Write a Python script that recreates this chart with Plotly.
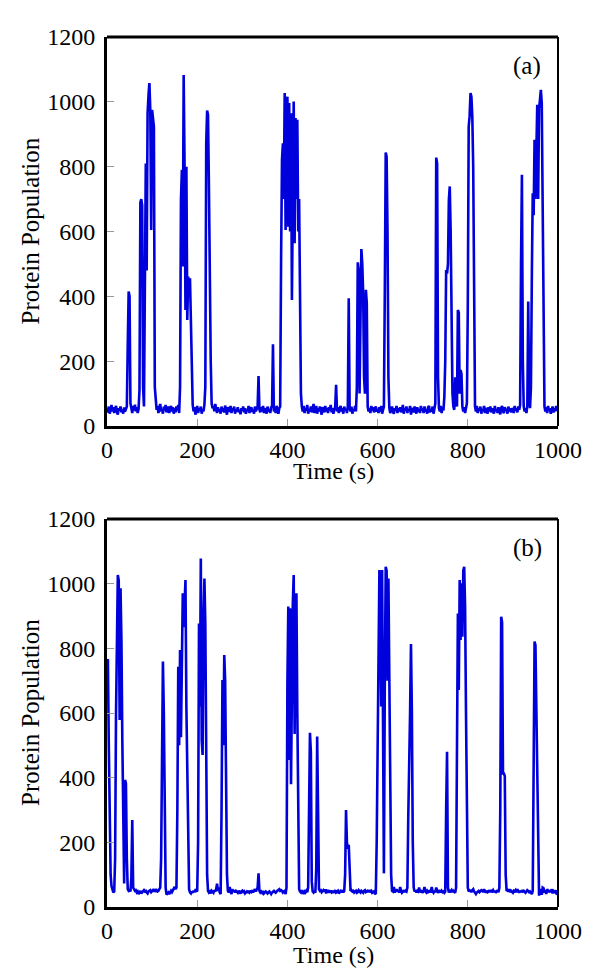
import plotly.graph_objects as go

# Sampling interval of both simulated traces (seconds)
DT = 2
# Panel (a): protein population every 2 s from t = 0 to 1000 s (25 samples = 50 s per row)
POP_A = [
    55, 42, 60, 38, 52, 65, 45, 58, 40, 50, 62, 44, 35, 55, 48, 60, 42, 50, 38, 57, 45, 52, 60, 250, 415,
    400, 70, 55, 40, 62, 48, 66, 45, 58, 40, 52, 110, 690, 700, 680, 120, 60, 520, 810, 480, 965, 1020, 1058, 975, 605,
    975, 934, 924, 120, 60, 50, 62, 40, 55, 68, 45, 52, 38, 60, 48, 65, 42, 55, 60, 40, 50, 62, 45, 58, 38,
    55, 42, 60, 48, 65, 40, 120, 698, 790, 492, 1083, 800, 358, 800, 327, 461, 420, 456, 307, 100, 65, 45, 58, 35, 50,
    62, 40, 55, 48, 60, 38, 52, 45, 66, 121, 872, 973, 960, 739, 420, 200, 70, 55, 62, 45, 68, 50, 40, 58, 45,
    52, 38, 60, 45, 55, 42, 63, 48, 35, 58, 50, 44, 62, 40, 55, 47, 60, 38, 52, 45, 58, 42, 50, 36, 55,
    48, 60, 42, 55, 38, 50, 45, 62, 40, 52, 58, 44, 50, 38, 60, 45, 55, 60, 154, 50, 42, 58, 45, 62, 40,
    55, 48, 38, 60, 45, 52, 40, 58, 60, 252, 45, 55, 40, 62, 48, 38, 55, 60, 512, 821, 872, 700, 1027, 605, 1000,
    1016, 615, 996, 600, 965, 389, 800, 1001, 564, 950, 700, 945, 600, 700, 400, 100, 60, 45, 62, 40, 55, 48, 65, 38, 52,
    45, 60, 42, 55, 68, 40, 50, 62, 38, 55, 45, 60, 48, 35, 58, 50, 42, 62, 45, 55, 40, 58, 48, 65, 42,
    55, 38, 50, 60, 127, 45, 58, 40, 52, 62, 45, 55, 38, 60, 48, 52, 40, 62, 394, 55, 45, 60, 38, 52, 45,
    62, 45, 120, 505, 480, 100, 300, 546, 500, 410, 150, 100, 420, 380, 60, 45, 55, 40, 62, 48, 58, 42, 55, 60, 45,
    52, 40, 58, 45, 62, 38, 55, 60, 420, 844, 831, 600, 150, 55, 40, 52, 60, 45, 38, 55, 48, 62, 40, 55, 45,
    58, 42, 50, 65, 38, 55, 48, 60, 40, 52, 45, 62, 35, 55, 50, 42, 60, 48, 38, 58, 45, 52, 40, 62, 48,
    55, 40, 60, 45, 52, 38, 58, 62, 42, 50, 45, 60, 38, 55, 70, 828, 810, 150, 55, 45, 62, 40, 58, 48, 90,
    200, 481, 470, 500, 698, 739, 600, 300, 100, 60, 50, 150, 100, 60, 358, 350, 100, 173, 160, 60, 45, 58, 40, 55, 70,
    368, 924, 955, 1027, 1016, 955, 800, 500, 60, 45, 62, 40, 55, 48, 60, 38, 52, 45, 62, 40, 55, 50, 38, 58, 45,
    60, 42, 55, 48, 38, 62, 45, 52, 40, 58, 50, 36, 55, 62, 45, 40, 58, 48, 52, 38, 60, 45, 55, 42, 50,
    55, 40, 62, 48, 55, 42, 60, 50, 65, 500, 775, 200, 60, 45, 55, 40, 62, 384, 100, 55, 120, 461, 718, 650, 883,
    700, 850, 991, 700, 980, 1006, 1037, 996, 700, 400, 60, 45, 58, 40, 62, 48, 55, 38, 52, 60, 42, 55, 45, 62, 48,
    55,
]

# Panel (b): protein population every 2 s from t = 0 to 1000 s (25 samples = 50 s per row)
POP_B = [
    760, 766, 500, 250, 100, 65, 55, 45, 48, 150, 600, 867, 1027, 1010, 578, 986, 826, 516, 300, 73, 393, 382, 150, 55, 50,
    52, 48, 90, 269, 60, 55, 50, 52, 45, 48, 40, 44, 50, 42, 46, 50, 52, 48, 50, 45, 42, 48, 50, 52, 46,
    50, 52, 48, 55, 50, 52, 48, 50, 55, 60, 150, 500, 759, 600, 200, 60, 38, 42, 45, 40, 48, 50, 46, 52, 60,
    62, 55, 60, 300, 743, 500, 795, 525, 826, 970, 865, 980, 1011, 620, 410, 150, 55, 45, 42, 48, 44, 50, 46, 52, 50,
    48, 200, 877, 620, 1078, 515, 470, 900, 1016, 877, 310, 100, 50, 45, 48, 42, 50, 46, 44, 52, 48, 55, 72, 50, 60,
    45, 40, 300, 702, 500, 779, 700, 400, 100, 50, 45, 62, 48, 40, 55, 48, 52, 45, 50, 48, 44, 50, 46, 42, 48,
    50, 44, 48, 42, 46, 48, 44, 50, 45, 48, 46, 52, 45, 50, 55, 48, 52, 60, 104, 50, 45, 48, 44, 50, 42,
    44, 48, 46, 42, 45, 48, 44, 40, 45, 48, 50, 46, 44, 48, 50, 52, 55, 50, 52, 50, 45, 48, 50, 40, 60,
    692, 929, 455, 924, 380, 774, 939, 1027, 535, 929, 970, 600, 150, 55, 48, 45, 52, 42, 40, 48, 45, 50, 46, 60, 300,
    539, 480, 80, 48, 45, 50, 44, 120, 527, 300, 55, 50, 52, 46, 50, 52, 48, 55, 42, 50, 48, 52, 44, 50, 46,
    50, 44, 48, 52, 45, 48, 50, 42, 46, 50, 48, 52, 45, 50, 100, 300, 200, 180, 192, 80, 50, 52, 48, 50, 45,
    48, 50, 44, 46, 52, 48, 45, 50, 48, 44, 50, 52, 46, 48, 50, 46, 52, 48, 50, 44, 46, 48, 42, 40, 200,
    516, 918, 1042, 900, 620, 1042, 413, 104, 700, 1052, 1040, 700, 1016, 700, 341, 100, 50, 48, 62, 45, 50, 55, 48, 52, 45,
    62, 50, 44, 48, 52, 46, 50, 48, 60, 279, 400, 600, 813, 600, 200, 60, 48, 52, 45, 50, 48, 60, 46, 50, 48,
    44, 50, 62, 48, 45, 50, 46, 48, 52, 45, 62, 48, 44, 50, 46, 60, 50, 44, 48, 52, 45, 50, 46, 48, 44,
    48, 300, 480, 60, 45, 50, 48, 52, 46, 50, 48, 44, 60, 620, 908, 671, 1011, 826, 1001, 836, 1040, 1052, 929, 600, 300,
    60, 48, 52, 50, 46, 52, 55, 48, 44, 40, 45, 48, 50, 46, 48, 52, 50, 46, 55, 48, 44, 50, 46, 48, 52,
    46, 50, 48, 52, 46, 50, 44, 48, 52, 46, 60, 300, 898, 880, 413, 413, 405, 100, 50, 52, 48, 55, 46, 50, 48,
    44, 50, 48, 52, 46, 55, 48, 44, 50, 46, 52, 48, 50, 46, 44, 48, 52, 50, 46, 48, 44, 40, 50, 400, 821,
    810, 599, 300, 80, 35, 55, 48, 38, 60, 58, 45, 52, 40, 55, 50, 48, 52, 46, 55, 42, 50, 48, 45, 52, 38,
    45,
]

TIME = [i * DT for i in range(len(POP_A))]
TICKS_X = [0, 200, 400, 600, 800, 1000]
TICKS_Y = [0, 200, 400, 600, 800, 1000, 1200]
PANEL_LABELS = ["(a)", "(b)"]
X_TITLE = "Time (s)"
Y_TITLE = "Protein Population"

FONT = "Liberation Serif"
BLUE = "#0000dc"

# The page body adds an 8 px offset; the figure is laid out to compensate.
OFF = 8
W, H = 600, 975
L, R = 107 - OFF, W - (558 - OFF)
T, B = 37 - OFF, H - (907 - OFF)
PH = H - T - B
PW = W - L - R


def py(y_screen):
    """screen y (px) -> paper fraction"""
    return ((H - B) - (y_screen - OFF)) / PH


fig = go.Figure()
fig.add_trace(go.Scatter(x=TIME, y=POP_A, mode="lines", line=dict(color=BLUE, width=2.6),
                         xaxis="x", yaxis="y", showlegend=False))
fig.add_trace(go.Scatter(x=TIME[:len(POP_B)], y=POP_B, mode="lines", line=dict(color=BLUE, width=2.6),
                         xaxis="x2", yaxis="y2", showlegend=False))

ax_common = dict(
    showgrid=False, zeroline=False, showline=True, linecolor="black", linewidth=3,
    ticks="inside", ticklen=7, tickwidth=1, tickcolor="#999999",
    tickfont=dict(family=FONT, size=24, color="black"),
)
top_a = 1.0
bot_a = py(426)
top_b = py(519)

fig.update_layout(
    width=W, height=H,
    margin=dict(l=L, r=R, t=T, b=B),
    paper_bgcolor="white", plot_bgcolor="white",
    xaxis=dict(domain=[0, 1], anchor="y", range=[0, 1000], tickvals=TICKS_X, ticklabelstandoff=0, **ax_common),
    yaxis=dict(domain=[bot_a, top_a], anchor="x", range=[0, 1200], tickvals=TICKS_Y, ticklabelstandoff=4, **ax_common),
    xaxis2=dict(domain=[0, 1], anchor="y2", range=[0, 1000], tickvals=TICKS_X, ticklabelstandoff=0, **ax_common),
    yaxis2=dict(domain=[0, top_b], anchor="x2", range=[0, 1200], tickvals=TICKS_Y, ticklabelstandoff=4, **ax_common),
)

shapes = []
for xr, yr in (("x domain", "y domain"), ("x2 domain", "y2 domain")):
    shapes.append(dict(type="line", xref=xr, yref=yr, x0=0, x1=1, y0=1, y1=1, line=dict(color="black", width=3)))
    shapes.append(dict(type="line", xref=xr, yref=yr, x0=1, x1=1, y0=0, y1=1, line=dict(color="black", width=2)))
fig.update_layout(shapes=shapes)

annotations = []
for lab, xr, yr in ((PANEL_LABELS[0], "x domain", "y domain"), (PANEL_LABELS[1], "x2 domain", "y2 domain")):
    annotations.append(dict(text=lab, xref=xr, yref=yr, x=0.932, y=0.925, showarrow=False,
                            font=dict(family=FONT, size=25, color="black"), xanchor="center", yanchor="middle"))
for yc in (py(471), py(955)):
    annotations.append(dict(text=X_TITLE, xref="paper", yref="paper", x=(333 - 107) / 451, y=yc, showarrow=False,
                            font=dict(family=FONT, size=24, color="black"), xanchor="center", yanchor="middle"))
for yc in ((bot_a + top_a) / 2, top_b / 2):
    annotations.append(dict(text=Y_TITLE, xref="paper", yref="paper", x=(30 - 107) / PW, y=yc, showarrow=False,
                            textangle=-90, font=dict(family=FONT, size=25, color="black"),
                            xanchor="center", yanchor="middle"))
fig.update_layout(annotations=annotations)

fig.write_html("out.html")
